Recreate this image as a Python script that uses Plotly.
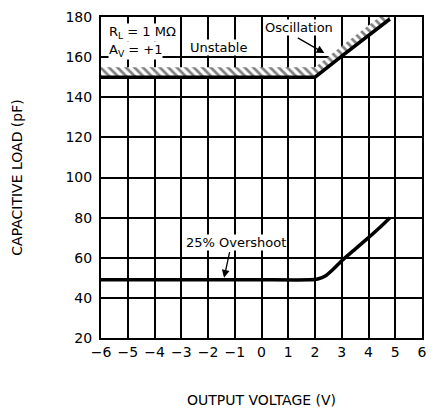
import plotly.graph_objects as go

# Data
unstable_x = [-6, -4, -2, 0, 2, 3, 4, 4.8]
unstable_y = [150, 150, 150, 150, 150, 160.5, 171, 179]
overshoot_x = [-6, -4, -2, 0, 1.8, 2.1, 2.4, 2.7, 3, 3.5, 4, 4.4, 4.8]
overshoot_y = [49, 49, 49, 49, 49, 49.4, 51, 54.5, 58.5, 64.3, 70, 74.8, 80]
hatch_depth = 5
x_ticks = list(range(-6, 7))
y_ticks = list(range(20, 181, 20))

FONT = "DejaVu Sans"

fig = go.Figure()

# hatch band above unstable curve
fig.add_trace(go.Scatter(x=unstable_x, y=unstable_y, mode="lines",
                         line=dict(width=0, color="black"), showlegend=False, hoverinfo="skip"))
fig.add_trace(go.Scatter(x=unstable_x, y=[v + hatch_depth for v in unstable_y], mode="lines",
                         line=dict(width=0, color="black"), fill="tonexty",
                         fillcolor="rgba(0,0,0,0)",
                         fillpattern=dict(shape="\\", fgcolor="black", bgcolor="white",
                                          size=6, solidity=0.45),
                         showlegend=False, hoverinfo="skip"))
fig.add_trace(go.Scatter(x=unstable_x, y=unstable_y, mode="lines",
                         line=dict(width=3.5, color="black"), showlegend=False))
fig.add_trace(go.Scatter(x=overshoot_x, y=overshoot_y, mode="lines",
                         line=dict(width=3.5, color="black", shape="spline", smoothing=0.5),
                         showlegend=False))

ann_font = dict(family=FONT, size=13, color="black")
fig.add_annotation(x=-5.75, y=172.5, text="R<sub>L</sub> = 1 MΩ", showarrow=False,
                   xanchor="left", font=ann_font, bgcolor="white", borderpad=0)
fig.add_annotation(x=-5.75, y=163.5, text="A<sub>V</sub> = +1", showarrow=False,
                   xanchor="left", font=ann_font, bgcolor="white", borderpad=0)
fig.add_annotation(x=-1.59, y=165, text="Unstable", showarrow=False,
                   font=ann_font, bgcolor="white", borderpad=0)
fig.add_annotation(x=1.4, y=175, text="Oscillation", showarrow=False,
                   font=ann_font, bgcolor="white", borderpad=0)
fig.add_annotation(x=2.35, y=162, ax=1.3, ay=170, axref="x", ayref="y", text="",
                   showarrow=True, arrowhead=2, arrowsize=1.2, arrowwidth=1.3, arrowcolor="black")
fig.add_annotation(x=-0.96, y=67.5, text="25% Overshoot", showarrow=False,
                   font=ann_font, bgcolor="white", borderpad=0)
fig.add_annotation(x=-1.4, y=50, ax=-1.18, ay=63.5, axref="x", ayref="y", text="",
                   showarrow=True, arrowhead=2, arrowsize=1.2, arrowwidth=1.3, arrowcolor="black")

axis_common = dict(showgrid=True, gridcolor="black", gridwidth=1.5, zeroline=False,
                   showline=True, linecolor="black", linewidth=2, mirror=True,
                   ticks="", tickfont=dict(family=FONT, size=14, color="black"))

fig.update_xaxes(range=[-6, 6], tickvals=x_ticks, **axis_common,
                 title=dict(text="OUTPUT VOLTAGE (V)", font=dict(family=FONT, size=14, color="black"),
                            standoff=36))
fig.update_yaxes(range=[20, 180], tickvals=y_ticks, **axis_common, ticklabelstandoff=4,
                 title=dict(text="CAPACITIVE LOAD (pF)", font=dict(family=FONT, size=14, color="black"),
                            standoff=40))

fig.update_layout(width=434, height=416, margin=dict(l=101, r=7, t=17, b=78),
                  plot_bgcolor="white", paper_bgcolor="white")

fig.write_html("out.html")
